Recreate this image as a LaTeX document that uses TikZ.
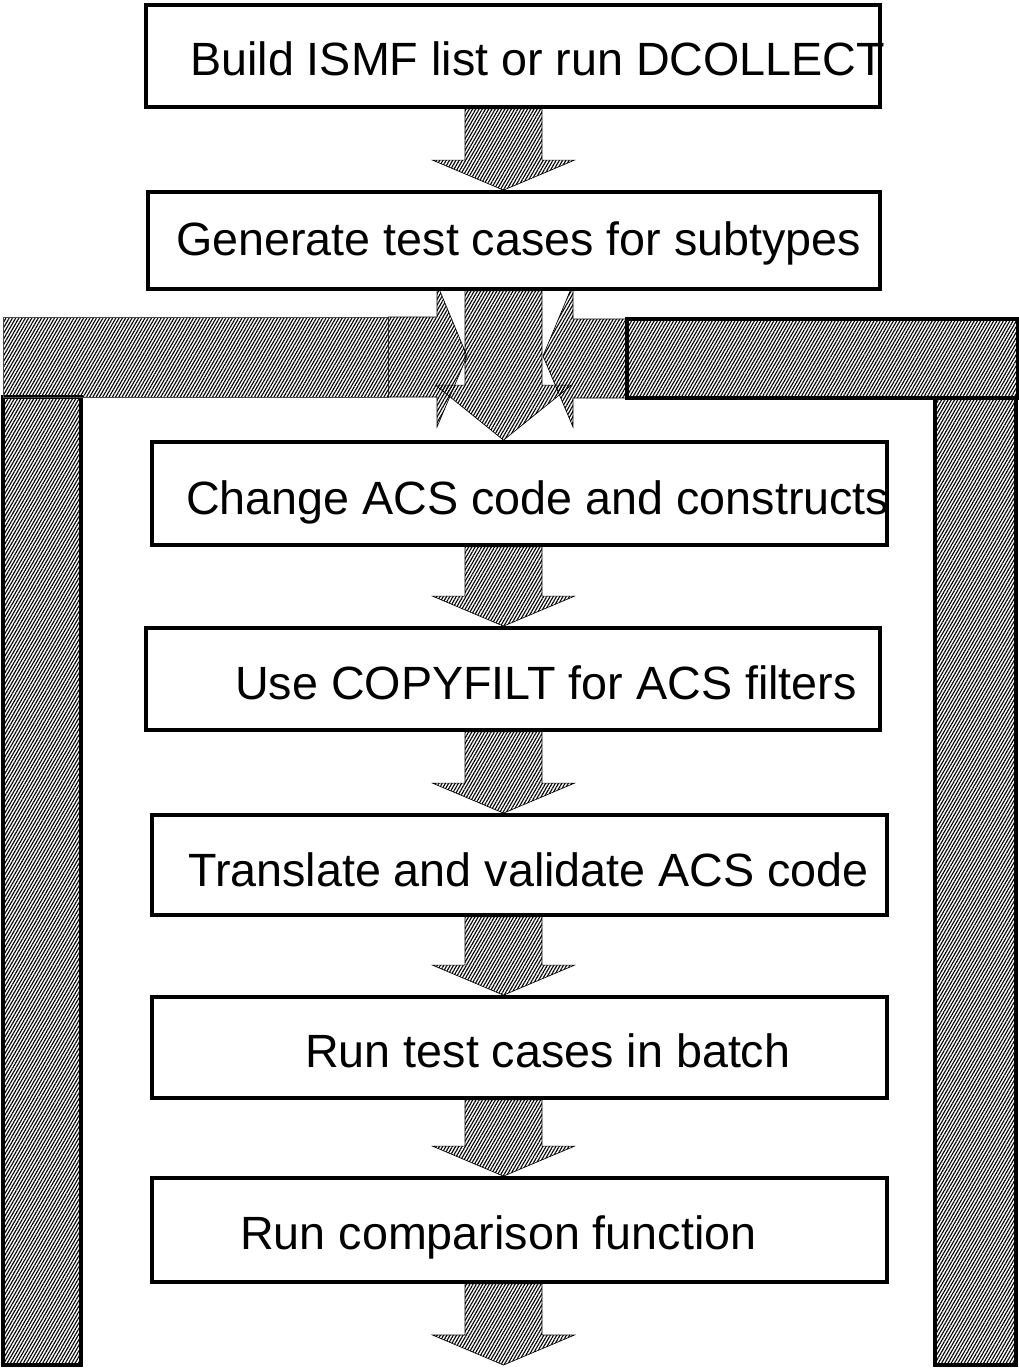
\documentclass[tikz,border=0pt]{standalone}
\usepackage{fontspec}
\setmainfont{Liberation Sans}
\usetikzlibrary{patterns.meta,calc}
\pgfdeclarelayer{bg}
\pgfsetlayers{bg,main}

% block arrow pointing down from the bottom of one node to the top of another
\newcommand\downflow[2]{%
  \coordinate (T) at (ax |- #1);
  \coordinate (P) at (ax |- #2);
  \draw[flow] ($(T)+(-38.5,0)$) -- ($(T)+(38.5,0)$) -- ($(P)+(38.5,-30)$)
    -- ($(P)+(71,-30)$) -- (P) -- ($(P)+(-71,-30)$) -- ($(P)+(-38.5,-30)$) -- cycle;}

\begin{document}
\begin{tikzpicture}[x=0.75pt,y=-0.75pt,
  hatch/.style={pattern={Lines[angle=60,distance=2.1pt,line width=0.85pt]}},
  stepbox/.style={draw=black,line width=2.8pt,fill=white,inner sep=0pt},
  steplabel/.style={anchor=base west,inner sep=0pt,font=\fontsize{35}{40}\selectfont},
  flow/.style={hatch,draw=black,line width=0.5pt},
  bar/.style={hatch,draw=black,line width=2.4pt},
  thinbar/.style={hatch,draw=black!70,line width=0.6pt},
]
\useasboundingbox (0,0) rectangle (1018,1370);

% process steps
\node[stepbox,minimum width=734*0.75pt,minimum height=102*0.75pt] (b1) at (513,56) {};
\node[stepbox,minimum width=732*0.75pt,minimum height=97*0.75pt] (b2) at (514,240.5) {};
\node[stepbox,minimum width=735*0.75pt,minimum height=103*0.75pt] (b3) at (519.5,493.5) {};
\node[stepbox,minimum width=734*0.75pt,minimum height=102*0.75pt] (b4) at (513,679) {};
\node[stepbox,minimum width=735*0.75pt,minimum height=100*0.75pt] (b5) at (519.5,865) {};
\node[stepbox,minimum width=735*0.75pt,minimum height=101*0.75pt] (b6) at (519.5,1047.5) {};
\node[stepbox,minimum width=735*0.75pt,minimum height=104*0.75pt] (b7) at (519.5,1230) {};

\node[steplabel] (t1) at (190,75) {Build ISMF list or run DCOLLECT};
\node[steplabel] (t2) at (176,255) {Generate test cases for subtypes};
\node[steplabel] (t3) at (186,514) {Change ACS code and constructs};
\node[steplabel] (t4) at (235,699) {Use COPYFILT for ACS filters};
\node[steplabel] (t5) at (188,886) {Translate and validate ACS code};
\node[steplabel] (t6) at (305,1067) {Run test cases in batch};
\node[steplabel] (t7) at (240,1249) {Run comparison function};

\coordinate (ax) at (503.5,0);
\coordinate (end) at (503.5,1365);

\begin{pgfonlayer}{bg}
  % feedback loop: returning bars on both sides
  \draw[bar] (3,397) rectangle (81,1365);
  \draw[bar] (935,398) rectangle (1016,1365);
  \draw[thinbar] (3,317) rectangle (388,397);
  \draw[bar] (627,319) rectangle (1018,398);
  % the loop re-enters above the change step
  \draw[flow] (388,317) -- (437,317) -- (437,284) -- (467,356) -- (437,427)
    -- (437,397) -- (388,397);
  \draw[flow] (627,319) -- (573,319) -- (573,284) -- (543,356) -- (573,427)
    -- (573,398) -- (627,398);
  % main flow
  \draw[flow] ($(ax |- b2.south)+(-38.5,0)$) -- ($(ax |- b2.south)+(38.5,0)$)
    -- ($(ax |- b3.north)+(38.5,-55)$) -- ($(ax |- b3.north)+(68,-55)$)
    -- (ax |- b3.north) -- ($(ax |- b3.north)+(-68,-55)$)
    -- ($(ax |- b3.north)+(-38.5,-55)$) -- cycle;
  \downflow{b1.south}{b2.north}
  \downflow{b3.south}{b4.north}
  \downflow{b4.south}{b5.north}
  \downflow{b5.south}{b6.north}
  \downflow{b6.south}{b7.north}
  \downflow{b7.south}{end}
\end{pgfonlayer}
\end{tikzpicture}
\end{document}
